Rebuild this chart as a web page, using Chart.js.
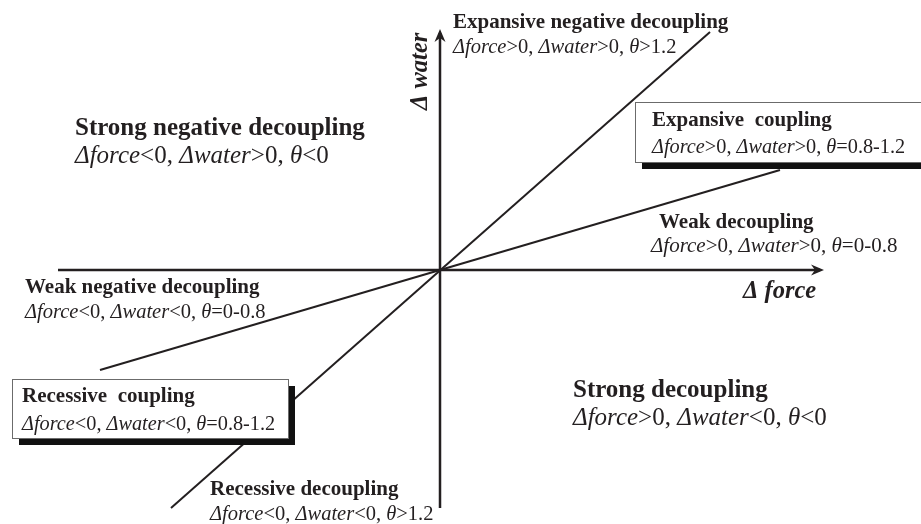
<!DOCTYPE html>
<html lang="en">
<head>
    <meta charset="UTF-8">
    <title>Decoupling states of force and water</title>
    <style>
        body {
            margin: 0;
            background: #ffffff;
        }
        .chart-box {
            width: 921px;
            height: 524px;
        }
    </style>
</head>
<body>
    <div class="chart-box">
        <canvas id="decouplingChart" width="921" height="524"></canvas>
    </div>

    <script src="https://cdn.jsdelivr.net/npm/chart.js@4.4.3/dist/chart.umd.min.js"></script>
    <script>
        // Diagram values (units: Δforce horizontal, Δwater vertical, origin at 0)
        const forceAxisX = [-3.82, 3.80];
        const forceAxisY = [0, 0];
        const waterAxisX = [0, 0];
        const waterAxisY = [-2.38, 2.37];
        // theta > 1.2 boundary (steep) and theta = 0.8 boundary (shallow)
        const steepX = [-2.69, 2.70];
        const steepY = [-2.38, 2.38];
        const shallowX = [-3.40, 3.40];
        const shallowY = [-1.00, 1.00];

        const ink = '#231f20';
        const serif = '"Liberation Serif", "Times New Roman", serif';

        function pts(xs, ys) {
            return xs.map((x, i) => ({ x: x, y: ys[i] }));
        }

        // Text blocks: position in the same units as the axes (left, baseline)
        const labels = [
            { x: 0.13, y: 2.42, text: 'Expansive negative decoupling', size: 21, bold: true },
            { x: 0.13, y: 2.17, text: 'Δforce>0, Δwater>0, θ>1.2', size: 20.5 },
            { x: -3.65, y: 1.35, text: 'Strong negative decoupling', size: 25, bold: true },
            { x: -3.65, y: 1.07, text: 'Δforce<0, Δwater>0, θ<0', size: 25 },
            { x: 2.12, y: 1.44, text: 'Expansive  coupling', size: 21, bold: true },
            { x: 2.12, y: 1.17, text: 'Δforce>0, Δwater>0, θ=0.8-1.2', size: 20.3 },
            { x: 2.19, y: 0.42, text: 'Weak decoupling', size: 21, bold: true },
            { x: 2.11, y: 0.18, text: 'Δforce>0, Δwater>0, θ=0-0.8', size: 21 },
            { x: -4.15, y: -0.23, text: 'Weak negative decoupling', size: 21, bold: true },
            { x: -4.15, y: -0.48, text: 'Δforce<0, Δwater<0, θ=0-0.8', size: 20.5 },
            { x: -4.18, y: -1.32, text: 'Recessive  coupling', size: 21, bold: true },
            { x: -4.18, y: -1.60, text: 'Δforce<0, Δwater<0, θ=0.8-1.2', size: 20.3 },
            { x: -2.30, y: -2.25, text: 'Recessive decoupling', size: 21, bold: true },
            { x: -2.30, y: -2.50, text: 'Δforce<0, Δwater<0, θ>1.2', size: 20.5 },
            { x: 1.33, y: -1.27, text: 'Strong decoupling', size: 25, bold: true },
            { x: 1.33, y: -1.55, text: 'Δforce>0, Δwater<0, θ<0', size: 25 }
        ];

        // Framed boxes with drop shadow: left, top, right, bottom
        const boxes = [
            { x1: 1.95, y1: 1.68, x2: 4.95, y2: 1.08 },
            { x1: -4.28, y1: -1.09, x2: -1.52, y2: -1.68 }
        ];

        function drawRuns(ctx, text, x, y, size, bold) {
            if (bold) {
                ctx.font = 'bold ' + size + 'px ' + serif;
                ctx.fillText(text, x, y);
                return;
            }
            // variables in italic, relations and numbers upright
            const parts = text.split(/(Δ[a-z]+|θ)/);
            let cx = x;
            parts.forEach(p => {
                if (!p) return;
                const italic = /^(Δ[a-z]+|θ)$/.test(p);
                ctx.font = (italic ? 'italic ' : '') + size + 'px ' + serif;
                ctx.fillText(p, cx, y);
                cx += ctx.measureText(p).width;
            });
        }

        const overlay = {
            id: 'overlay',
            afterDatasetsDraw(chart) {
                const ctx = chart.ctx;
                const sx = chart.scales.x;
                const sy = chart.scales.y;
                ctx.save();

                // arrow heads on the two axes
                chart.data.datasets.forEach((ds, i) => {
                    if (!ds.arrow) return;
                    const d = chart.getDatasetMeta(i).data;
                    const a = d[d.length - 2], b = d[d.length - 1];
                    const ang = Math.atan2(b.y - a.y, b.x - a.x);
                    ctx.fillStyle = ink;
                    ctx.beginPath();
                    ctx.moveTo(b.x + Math.cos(ang) * 4, b.y + Math.sin(ang) * 4);
                    ctx.lineTo(b.x - Math.cos(ang) * 9 + Math.sin(ang) * 5.5, b.y - Math.sin(ang) * 9 - Math.cos(ang) * 5.5);
                    ctx.lineTo(b.x - Math.cos(ang) * 5, b.y - Math.sin(ang) * 5);
                    ctx.lineTo(b.x - Math.cos(ang) * 9 - Math.sin(ang) * 5.5, b.y - Math.sin(ang) * 9 + Math.cos(ang) * 5.5);
                    ctx.closePath();
                    ctx.fill();
                });

                // boxes
                boxes.forEach(bx => {
                    const l = sx.getPixelForValue(bx.x1), t = sy.getPixelForValue(bx.y1);
                    const r = sx.getPixelForValue(bx.x2), btm = sy.getPixelForValue(bx.y2);
                    ctx.fillStyle = '#111111';
                    ctx.fillRect(l + 7, t + 7, r - l, btm - t);
                    ctx.fillStyle = '#ffffff';
                    ctx.fillRect(l, t, r - l, btm - t);
                    ctx.strokeStyle = '#6b6b6b';
                    ctx.lineWidth = 1;
                    ctx.strokeRect(Math.round(l) + 0.5, Math.round(t) + 0.5, r - l, btm - t);
                });

                // region labels
                ctx.fillStyle = ink;
                ctx.textBaseline = 'alphabetic';
                ctx.textAlign = 'left';
                labels.forEach(lb => {
                    drawRuns(ctx, lb.text, sx.getPixelForValue(lb.x), sy.getPixelForValue(lb.y), lb.size, lb.bold);
                });

                // axis titles
                ctx.font = 'bold italic 24.5px ' + serif;
                ctx.fillText('Δ force', sx.getPixelForValue(3.03), sy.getPixelForValue(-0.28));
                ctx.save();
                ctx.translate(sx.getPixelForValue(-0.13), sy.getPixelForValue(1.60));
                ctx.rotate(-Math.PI / 2);
                ctx.fillText('Δ water', 0, 0);
                ctx.restore();

                ctx.restore();
            }
        };

        const lineStyle = { showLine: true, pointRadius: 0, borderColor: ink, fill: false };

        new Chart(document.getElementById('decouplingChart'), {
            type: 'scatter',
            data: {
                datasets: [
                    Object.assign({ label: 'θ > 1.2', data: pts(steepX, steepY), borderWidth: 2 }, lineStyle),
                    Object.assign({ label: 'θ = 0.8', data: pts(shallowX, shallowY), borderWidth: 2 }, lineStyle),
                    Object.assign({ label: 'Δ force', data: pts(forceAxisX, forceAxisY), borderWidth: 2.5, arrow: true }, lineStyle),
                    Object.assign({ label: 'Δ water', data: pts(waterAxisX, waterAxisY), borderWidth: 2.5, arrow: true }, lineStyle)
                ]
            },
            options: {
                responsive: false,
                animation: false,
                layout: { padding: 0 },
                plugins: {
                    legend: { display: false },
                    tooltip: { enabled: false }
                },
                scales: {
                    x: { type: 'linear', min: -4.40, max: 4.81, display: false },
                    y: { type: 'linear', min: -2.54, max: 2.70, display: false }
                }
            },
            plugins: [overlay]
        });
    </script>
</body>
</html>
